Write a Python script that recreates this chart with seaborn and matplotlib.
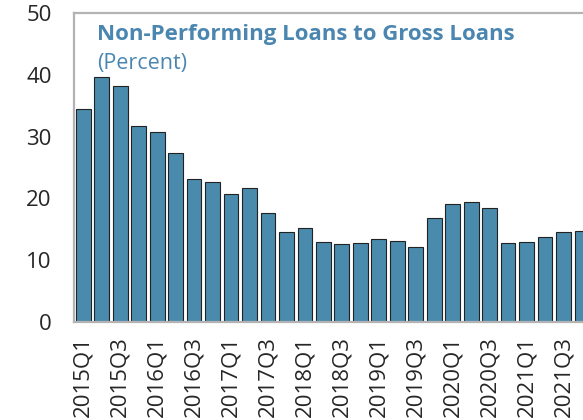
import numpy as np
import pandas as pd
import matplotlib
matplotlib.use("Agg")
import matplotlib.pyplot as plt
import seaborn as sns

quarters = [f"{y}Q{q}" for y in range(2015, 2022) for q in range(1, 5)]
npl_ratio = [34.5, 39.7, 38.2, 31.8, 30.7, 27.3, 23.1, 22.7, 20.7, 21.7,
             17.6, 14.6, 15.3, 12.9, 12.6, 12.75, 13.45, 13.1, 12.1, 16.8,
             19.1, 19.5, 18.5, 12.75, 13.0, 13.8, 14.5, 14.8]
title = "Non-Performing Loans to Gross Loans"
subtitle = "(Percent)"
y_ticks = [0, 10, 20, 30, 40, 50]

df = pd.DataFrame({"Quarter": quarters, "NPL": npl_ratio})

sns.set_style("white")
plt.rcParams["font.family"] = ["Open Sans", "DejaVu Sans"]

bar_color = "#4a8bad"
text_color = "#4a86b0"
grey = "#b3b3b3"

fig = plt.figure(figsize=(5.83, 4.2), dpi=100)
ax = fig.add_axes([0.127, 0.233, 0.887, 0.736])

sns.barplot(data=df, x="Quarter", y="NPL", color=bar_color, saturation=1,
            width=0.8, edgecolor="#222222", linewidth=0.8, ax=ax)

ax.set_xlim(-0.5, len(quarters) - 0.5)
ax.set_ylim(0, 50)
ax.set_yticks(y_ticks)
ax.set_xlabel("")
ax.set_ylabel("")

# labels on every second quarter, tick marks between bars
ax.set_xticks(range(0, len(quarters), 2))
ax.set_xticklabels(quarters[::2], rotation=90)
ax.set_xticks(np.arange(-0.5, len(quarters), 1), minor=True)
ax.tick_params(axis="x", which="major", length=0, pad=10, labelsize=16)
ax.tick_params(axis="x", which="minor", direction="in", length=3, width=1.5, color=grey)
ax.tick_params(axis="y", direction="in", length=5, width=1.5, color=grey, pad=16, labelsize=16)

for side in ["left", "top", "bottom"]:
    ax.spines[side].set_color(grey)
    ax.spines[side].set_linewidth(1.6)
ax.spines["right"].set_visible(False)

ax.text(0.045, 0.965, title, transform=ax.transAxes, color=text_color,
        fontsize=16, fontweight="bold", va="top", ha="left")
ax.text(0.045, 0.87, subtitle, transform=ax.transAxes, color=text_color,
        fontsize=15.5, va="top", ha="left")

fig.savefig("out.png", dpi=100)
